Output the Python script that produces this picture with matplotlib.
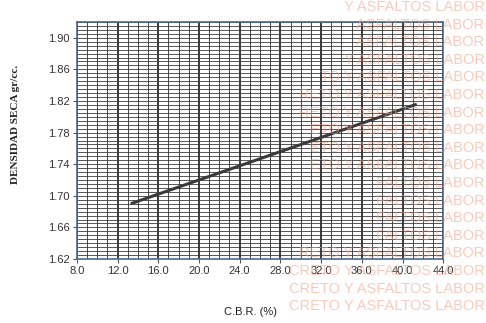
import numpy as np
import matplotlib
matplotlib.use('Agg')
import matplotlib.pyplot as plt

# data
cbr = [13.3, 41.4]
density = [1.690, 1.816]
xticks = [8.0, 12.0, 16.0, 20.0, 24.0, 28.0, 32.0, 36.0, 40.0, 44.0]
yticks = [1.62, 1.66, 1.70, 1.74, 1.78, 1.82, 1.86, 1.90]

# scanned watermark rows (right aligned at page edge)
wm_rows = ['Y ASFALTOS LABOR', 'ASFALTOS LABOR', 'ASFALTOS LABOR', 'Y ASFALTOS LABOR',
           'TO Y ASFALTOS LABOR', 'RETO Y ASFALTOS LABOR', 'RETO Y ASFALTOS LABOR',
           'ETO Y ASFALTOS LABOR', 'ETO Y ASFALTOS LABOR', 'ETO Y ASFALTOS LABOR',
           'FALTOS LABOR', 'FALTOS LABOR', 'FALTOS LABOR', 'FALTOS LABOR',
           'RETO Y ASFALTOS LABOR', 'CRETO Y ASFALTOS LABOR', 'CRETO Y ASFALTOS LABOR',
           'CRETO Y ASFALTOS LABOR']

fig = plt.figure(figsize=(4.86, 3.23), dpi=100)
fig.patch.set_facecolor('white')

for i, s in enumerate(wm_rows):
    fig.text(0.997, 1 - (7 + i * 17.6) / 323, s, ha='right', va='center',
             fontsize=10.5, color='#f3a184', alpha=0.55, family='Liberation Sans', zorder=0)

ax = fig.add_axes([0.158, 0.198, 0.754, 0.734])
ax.patch.set_alpha(0)

# grid
for x in np.arange(8, 44.01, 1.0):
    major = abs(x % 4) < 1e-6
    ax.axvline(x, color='#2a2a2a', lw=1.3 if major else 0.6, zorder=1)
for y in np.arange(1.62, 1.9201, 0.005):
    ax.axhline(y, color='#3a3a3a', lw=0.6, zorder=1)

ax.plot(cbr, density, color='#3a3a3a', lw=2.2, zorder=3, solid_capstyle='butt')

ax.set_xlim(8, 44)
ax.set_ylim(1.62, 1.92)
ax.set_xticks(xticks)
ax.set_xticklabels(['%.1f' % v for v in xticks])
ax.set_yticks(yticks)
ax.set_yticklabels(['%.2f' % v for v in yticks])
ax.tick_params(labelsize=8, length=3, width=0.8, color='#555555', pad=2)
for lab in ax.get_xticklabels() + ax.get_yticklabels():
    lab.set_family('Liberation Sans')
    lab.set_color('#333333')
for sp in ax.spines.values():
    sp.set_color('#4a6a90')
    sp.set_linewidth(1.2)

fig.text(250 / 486, 1 - 312 / 323, 'C.B.R. (%)', ha='center', va='center',
         fontsize=8, family='Liberation Sans', color='#222222')
fig.text(16 / 486, 1 - 124 / 323, 'DENSIDAD SECA gr/cc.', rotation=90, ha='center', va='center',
         fontsize=8, family='Liberation Serif', fontweight='bold', color='#222222')

fig.savefig('out.png', dpi=100)
